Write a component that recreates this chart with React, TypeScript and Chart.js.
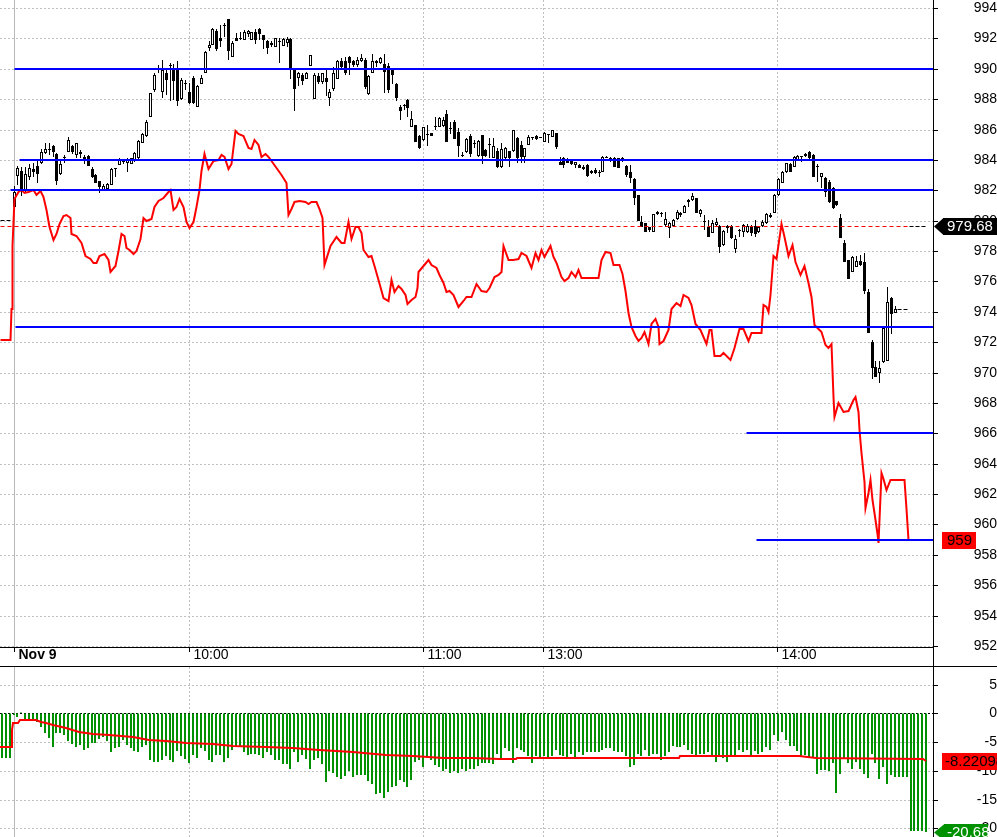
import React, { useEffect, useRef } from "react";
import { Chart, registerables, LinearScale } from "chart.js";

Chart.register(...registerables);

// Linear scales whose pixels are snapped to the device grid, so 1-3px marks stay crisp.
class CrispHalfScale extends (LinearScale as any) {
  static id = "crispHalf";
  static defaults = (LinearScale as any).defaults;
  getPixelForValue(value: number) {
    const p = super.getPixelForValue(value);
    return Math.floor(p) + 0.5;
  }
}
class CrispIntScale extends (LinearScale as any) {
  static id = "crispInt";
  static defaults = (LinearScale as any).defaults;
  getPixelForValue(value: number) {
    const p = super.getPixelForValue(value);
    return Math.floor(p);
  }
}
class CrispRoundScale extends (LinearScale as any) {
  static id = "crispRound";
  static defaults = (LinearScale as any).defaults;
  getPixelForValue(value: number) {
    const p = super.getPixelForValue(value);
    return Math.round(p);
  }
}
class CrispRoundHalfScale extends (LinearScale as any) {
  static id = "crispRoundHalf";
  static defaults = (LinearScale as any).defaults;
  getPixelForValue(value: number) {
    const p = super.getPixelForValue(value);
    return Math.round(p) + 0.5;
  }
}
Chart.register(CrispHalfScale as any, CrispIntScale as any, CrispRoundScale as any, CrispRoundHalfScale as any);

const FONT = "Arial, 'Liberation Sans', sans-serif";

// ---- x axis: minutes since 09:15 on Nov 9 (one candle per minute, lunch break removed)
const xMin = -3.59;
const xMax = 235.64;
const xTickValues = [0, 45, 105, 135.7, 195.7];
const xTickLabels = ["Nov 9", "10:00", "11:00", "13:00", "14:00"];

// ---- price panel
const priceMin = 951.93;
const priceMax = 994.53;
const priceTicks = [952, 954, 956, 958, 960, 962, 964, 966, 968, 970, 972, 974, 976, 978, 980, 982, 984, 986, 988, 990, 992, 994];

const candleOpen = [
  980.9, 982.96, 983.27, 982.0, 982.85, 983.4, 983.6, 983.8, 984.45, 984.7,
  984.9, 984.4, 983.1, 984.1, 984.5, 984.9, 984.3, 984.55, 984.2, 984.25,
  983.4, 983.0, 982.6, 982.05, 982.1, 982.35, 983.4, 983.65, 983.9, 983.78,
  983.75, 983.9, 984.1, 985.1, 985.6, 986.85, 988.6, 989.95, 988.45, 989.75,
  990.2, 990.0, 990.0, 988.0, 989.0, 988.45, 989.4, 987.5, 989.0, 989.7,
  991.4, 991.55, 992.5, 992.0, 992.85, 993.25, 990.8, 992.0, 992.05, 991.9,
  992.3, 991.9, 992.4, 992.65, 992.2, 991.8, 991.7, 991.45, 991.8, 991.5,
  991.7, 991.95, 990.0, 989.4, 989.6, 989.3, 990.2, 988.0, 989.5, 989.1,
  989.4, 988.1, 988.7, 989.3, 990.5, 990.5, 990.8, 990.5, 990.25, 990.5,
  990.6, 988.35, 989.75, 990.4, 990.4, 990.3, 990.2, 990.0, 989.0, 987.5,
  987.55, 987.95, 986.2, 986.3, 985.6, 985.3, 985.65, 985.75, 986.2, 986.2,
  986.25, 987.0, 986.1, 986.5, 985.85, 984.25, 984.55, 985.6, 985.1, 984.28,
  985.65, 984.65, 984.95, 984.1, 984.6, 983.56, 984.1, 984.6, 984.6, 985.47,
  984.98, 984.2, 984.98, 985.47, 985.6, 985.47, 985.16, 985.64, 985.53, 985.75,
  983.89, 984.15, 984.0, 983.93, 983.67, 983.67, 983.56, 983.67, 983.12, 983.34,
  983.23, 983.23, 984.1, 984.1, 984.1, 984.1, 984.0, 983.62, 983.23, 982.75,
  981.7, 979.94, 979.83, 979.61, 979.24, 980.42, 980.46, 979.72, 979.54, 979.65,
  980.09, 980.38, 980.53, 981.21, 981.36, 981.47, 980.42, 980.0, 979.56, 979.2,
  979.71, 979.65, 978.4, 979.65, 979.65, 978.11, 979.34, 979.27, 979.27, 979.56,
  979.65, 979.27, 979.65, 979.82, 980.22, 980.53, 981.69, 982.46, 983.18, 983.73,
  983.55, 983.99, 984.17, 984.26, 984.54, 984.32, 983.51, 982.85, 982.79, 982.57,
  982.13, 981.3, 980.15, 978.51, 977.41, 976.64, 976.97, 977.37, 977.26, 975.28,
  972.03, 970.39, 969.95, 970.72, 970.78, 974.89, 973.95,
];
const candleHigh = [
  982.3, 983.6, 983.55, 983.55, 983.7, 983.8, 983.9, 984.7, 985.1, 985.1,
  985.0, 984.45, 983.95, 984.3, 985.5, 985.0, 985.1, 984.65, 984.3, 984.3,
  983.55, 983.1, 982.6, 982.4, 982.5, 983.45, 983.5, 984.1, 984.0, 984.1,
  984.15, 984.5, 985.3, 985.75, 986.6, 988.4, 989.7, 990.25, 990.6, 989.9,
  990.4, 990.3, 990.5, 989.4, 989.25, 989.05, 989.5, 988.95, 989.6, 991.15,
  991.8, 992.7, 992.65, 992.9, 993.0, 993.3, 991.8, 992.33, 992.4, 992.55,
  992.55, 992.45, 992.6, 992.7, 992.25, 991.9, 991.85, 992.05, 992.0, 992.0,
  992.1, 992.05, 990.0, 989.8, 989.7, 989.8, 990.9, 989.7, 989.7, 989.7,
  990.0, 988.7, 990.1, 990.6, 990.7, 990.8, 990.85, 990.55, 990.75, 991.0,
  990.7, 989.6, 991.0, 990.6, 990.75, 991.0, 990.35, 990.0, 989.05, 987.6,
  987.7, 988.0, 987.2, 986.3, 985.65, 986.2, 986.3, 985.8, 986.85, 986.8,
  986.85, 987.3, 986.5, 986.6, 986.1, 984.55, 985.45, 985.7, 985.3, 985.3,
  985.65, 984.7, 985.47, 985.47, 984.76, 985.1, 984.87, 984.6, 986.0, 985.5,
  985.25, 984.77, 985.64, 985.53, 985.64, 985.5, 985.86, 985.7, 986.0, 985.75,
  984.17, 984.2, 984.15, 984.0, 983.89, 983.7, 983.67, 983.7, 983.34, 983.45,
  983.34, 984.28, 984.28, 984.22, 984.22, 984.15, 984.22, 983.67, 983.67, 982.79,
  981.7, 980.31, 979.87, 979.61, 980.46, 980.64, 980.55, 980.6, 979.9, 980.11,
  980.7, 980.6, 981.04, 981.43, 981.85, 981.52, 980.75, 980.38, 980.04, 980.04,
  980.2, 979.71, 979.38, 979.71, 979.71, 979.05, 979.43, 979.78, 979.78, 979.71,
  980.04, 979.65, 980.04, 980.53, 980.48, 981.73, 982.79, 983.29, 983.82, 983.82,
  984.26, 984.32, 984.26, 984.48, 984.59, 984.37, 983.73, 983.16, 982.85, 982.68,
  982.24, 981.3, 980.44, 978.73, 977.41, 977.67, 977.67, 977.74, 977.85, 975.48,
  972.14, 970.78, 970.78, 973.02, 975.66, 975.0, 974.4,
];
const candleLow = [
  980.9, 982.35, 981.6, 981.9, 982.7, 982.9, 982.45, 983.7, 984.4, 984.3,
  984.2, 982.35, 983.0, 983.8, 984.5, 984.4, 984.1, 984.1, 983.7, 983.6,
  982.8, 982.5, 981.85, 982.0, 982.0, 982.35, 982.9, 983.65, 983.7, 983.2,
  983.7, 983.85, 984.0, 985.1, 985.5, 986.85, 988.5, 989.7, 988.05, 988.3,
  987.9, 987.95, 987.55, 987.95, 988.6, 987.7, 987.7, 987.5, 989.0, 989.7,
  991.2, 991.55, 991.15, 991.45, 992.1, 990.6, 990.8, 991.8, 991.9, 991.9,
  992.1, 991.9, 991.65, 991.9, 991.3, 991.0, 991.45, 991.45, 990.4, 991.5,
  991.45, 989.3, 987.25, 988.9, 988.95, 989.3, 990.2, 988.0, 989.0, 989.0,
  988.2, 987.55, 988.55, 989.3, 990.0, 989.6, 989.6, 990.15, 990.15, 990.45,
  988.7, 988.3, 989.7, 990.15, 990.3, 988.4, 988.4, 989.0, 987.9, 986.6,
  987.3, 986.85, 986.15, 985.15, 984.7, 985.25, 984.9, 985.6, 986.0, 986.15,
  986.2, 985.2, 985.7, 985.35, 984.2, 984.2, 984.45, 984.2, 984.8, 984.2,
  983.7, 984.2, 984.1, 984.1, 983.5, 983.5, 984.0, 983.56, 984.55, 983.78,
  983.78, 983.78, 984.98, 985.3, 985.3, 985.45, 985.16, 985.1, 985.53, 984.72,
  983.67, 983.45, 983.78, 983.67, 983.45, 983.45, 983.34, 982.9, 983.05, 983.05,
  982.9, 983.23, 984.1, 983.89, 983.56, 983.45, 983.89, 982.9, 982.46, 981.04,
  979.98, 979.61, 979.24, 979.28, 979.24, 980.38, 980.27, 979.61, 978.84, 979.61,
  980.05, 980.27, 980.49, 980.93, 981.3, 980.49, 980.27, 979.39, 978.9, 979.16,
  979.65, 977.85, 978.33, 979.2, 978.77, 977.9, 978.9, 978.95, 979.16, 979.0,
  978.95, 979.2, 979.6, 979.78, 980.16, 980.53, 981.62, 982.46, 983.12, 983.18,
  983.55, 983.95, 983.88, 984.21, 984.04, 982.85, 982.57, 982.13, 981.58, 981.14,
  980.77, 980.97, 978.88, 977.3, 976.14, 976.6, 976.97, 977.0, 975.17, 972.58,
  969.55, 969.69, 969.29, 970.65, 970.78, 972.52, 973.9,
];
const candleClose = [
  981.9, 983.45, 982.0, 983.1, 983.45, 983.2, 983.1, 984.55, 984.7, 984.65,
  984.55, 982.6, 983.7, 984.1, 985.3, 984.5, 985.1, 984.4, 984.05, 983.6,
  982.9, 982.5, 982.2, 982.3, 982.4, 983.4, 983.4, 984.0, 983.85, 984.0,
  984.1, 984.45, 985.25, 985.7, 986.5, 988.4, 989.6, 990.0, 989.9, 989.25,
  990.25, 989.2, 987.9, 989.25, 989.0, 987.75, 987.75, 988.9, 989.4, 991.1,
  991.55, 992.65, 991.3, 991.8, 992.9, 991.15, 991.7, 991.8, 991.95, 992.45,
  992.5, 992.4, 991.9, 992.3, 991.9, 991.4, 991.55, 992.0, 991.75, 991.95,
  991.95, 990.0, 988.7, 989.75, 989.2, 989.7, 990.9, 989.6, 989.1, 989.7,
  989.1, 988.5, 989.7, 990.5, 990.1, 989.7, 990.4, 990.25, 990.6, 990.7,
  988.8, 989.5, 990.5, 990.5, 990.7, 989.8, 988.6, 989.6, 988.1, 987.2,
  987.55, 987.4, 986.7, 985.2, 984.8, 986.15, 985.7, 985.6, 986.2, 986.75,
  986.6, 985.2, 986.05, 985.4, 984.9, 984.25, 985.4, 984.4, 985.05, 985.25,
  984.28, 984.28, 984.98, 984.9, 983.56, 984.72, 984.77, 984.1, 986.0, 984.1,
  984.2, 984.77, 985.53, 985.47, 985.38, 985.47, 985.75, 985.64, 985.97, 984.87,
  983.67, 983.67, 983.82, 983.76, 983.84, 983.5, 983.4, 982.94, 983.27, 983.12,
  983.12, 984.22, 984.22, 984.0, 983.56, 983.5, 984.15, 983.01, 982.83, 981.52,
  979.98, 979.61, 979.28, 979.39, 980.42, 980.6, 980.46, 980.11, 979.83, 980.05,
  980.6, 980.53, 980.97, 981.36, 981.63, 980.53, 980.71, 979.94, 978.9, 979.82,
  979.93, 978.24, 979.34, 979.5, 978.84, 978.77, 979.34, 979.71, 979.65, 979.16,
  979.12, 979.56, 979.93, 980.44, 980.37, 981.69, 982.72, 983.22, 983.77, 983.22,
  984.21, 984.26, 984.17, 984.39, 984.1, 982.9, 983.51, 983.12, 981.91, 981.25,
  980.81, 981.03, 978.88, 977.3, 976.14, 977.63, 977.34, 977.08, 975.39, 972.58,
  970.28, 969.69, 970.33, 972.91, 974.67, 973.86, 974.2,
];

// red comparison line (read on the price axis)
const redLineX = [
  -3.59, -0.77, -0.72, -0.46, -0.31, 0.18, 1.1, 1.97, 2.82, 3.67,
  4.95, 5.82, 6.67, 7.51, 8.38, 9.23, 10.08, 10.95, 11.79, 12.64,
  13.51, 14.36, 14.79, 16.08, 17.36, 18.21, 19.49, 20.33, 21.21, 22.05,
  23.33, 24.18, 24.87, 25.9, 26.74, 27.62, 28.21, 28.9, 29.74, 30.59,
  31.46, 32.31, 33.15, 34.03, 35.31, 36.15, 37, 38.28, 39.56, 40.18,
  40.85, 41.72, 42.56, 43.41, 44.28, 44.95, 45.97, 46.85, 47.51, 48.13,
  48.97, 49.82, 51.1, 52.38, 53.26, 54.1, 54.95, 55.82, 56.67, 57.51,
  58.79, 60.08, 60.95, 61.79, 62.64, 63.51, 64.36, 65.21, 66.08, 67.36,
  68.64, 69.92, 70.44, 71.21, 72.05, 73.33, 74.62, 75.46, 76.33, 77.62,
  78.46, 79.15, 79.74, 81.03, 82.74, 84.03, 84.87, 85.72, 86.59, 87.44,
  88.28, 89.15, 89.56, 90.85, 91.72, 92.56, 93.41, 94.69, 95.97, 96.85,
  97.69, 98.54, 99.41, 100.26, 100.85, 101.97, 102.82, 103.41, 103.67, 104.95,
  106.23, 107.1, 108.38, 109.23, 110.08, 110.77, 111.79, 112.64, 113.92, 115.2,
  116.08, 117.36, 118.64, 119.92, 121.21, 122.05, 123.33, 124.18, 125.05, 125.64,
  126.74, 128.03, 129.31, 130.18, 131.46, 132.74, 133.59, 134.44, 135.31, 136.15,
  137.44, 138.28, 139.15, 140.44, 141.28, 142.13, 143, 143.85, 144.69, 145.56,
  146.85, 148.54, 149.82, 150.69, 151.54, 152.82, 153.67, 155.38, 156.08, 156.67,
  157.51, 158.38, 159.23, 160.08, 160.95, 161.79, 162.64, 163.51, 164.36, 165.21,
  165.64, 166.49, 167.77, 168.64, 169.92, 170.77, 171.62, 172.9, 173.77, 174.62,
  175.9, 177.62, 178.46, 178.9, 179.74, 181.03, 181.87, 183.59, 184.87, 186.15,
  187, 188.28, 189.15, 190.44, 191.72, 192.13, 192.82, 193.41, 193.85, 194.69,
  195.56, 196.67, 197.69, 198.54, 199.56, 200.44, 201.72, 202.64, 203.67, 204.54,
  205.38, 206.23, 207.1, 207.95, 208.79, 209.67, 210.08, 210.51, 211.36, 212.64,
  213.92, 215.21, 215.82, 216.49, 216.92, 217.36, 217.95, 218.46, 219.05, 219.49,
  220.08, 220.77, 221.36, 221.62, 222.05, 222.49, 222.9, 223.77, 224.62, 225.46,
  228.46, 228.9, 229.31,
];
const redLineY = [
  972.14, 972.14, 974.2, 974.2, 978.3, 981.4, 981.9, 982.0, 981.8, 981.9,
  982.0, 981.7, 981.95, 981.55, 980.7, 979.6, 978.7, 979.1, 979.8, 980.3,
  980.4, 980.2, 979.1, 979.0, 978.5, 977.7, 977.5, 977.2, 977.2, 977.7,
  977.8, 977.4, 976.6, 977.0, 978.0, 979.1, 979.0, 978.2, 978.1, 977.8,
  978.0, 978.8, 980.2, 980.0, 980.1, 980.9, 981.3, 981.5, 981.9, 982.0,
  980.7, 980.9, 981.4, 980.9, 979.9, 979.5, 979.9, 980.9, 982.0, 983.3,
  984.4, 983.4, 983.9, 984.0, 984.3, 984.2, 983.4, 983.7, 985.9, 985.7,
  985.6, 984.8, 984.7, 985.3, 985.0, 984.2, 984.4, 984.2, 983.9, 983.5,
  983.0, 982.5, 980.4, 980.8, 981.2, 981.3, 981.2, 981.1, 981.2, 981.2,
  980.8, 980.2, 977.1, 978.3, 978.9, 978.5, 978.5, 979.9, 978.8, 979.6,
  979.6, 979.2, 978.1, 977.6, 977.7, 977.0, 976.1, 974.9, 974.7, 976.1,
  975.3, 975.7, 975.5, 975.1, 974.5, 974.8, 975.0, 975.6, 976.6, 977.0,
  977.4, 977.1, 976.9, 976.4, 975.9, 975.3, 975.4, 975.1, 974.3, 974.7,
  975.0, 974.95, 975.8, 975.4, 975.3, 975.55, 976.3, 976.4, 976.6, 978.3,
  977.4, 977.4, 977.5, 977.85, 977.7, 976.9, 977.85, 977.4, 978.1, 977.6,
  978.3, 977.6, 977.2, 976.3, 976.0, 976.2, 976.6, 976.3, 976.75, 976.2,
  976.2, 976.2, 976.2, 977.4, 977.95, 977.85, 977.1, 977.1, 976.5, 975.4,
  973.9, 973.0, 972.4, 972.1, 972.3, 972.7, 971.9, 973.2, 973.5, 973.0,
  971.9, 972.1, 972.8, 974.2, 974.6, 974.4, 975.1, 974.9, 974.45, 973.2,
  972.8, 971.9, 972.8, 972.8, 971.1, 971.1, 971.3, 970.8, 971.6, 972.9,
  972.9, 972.1, 972.6, 972.6, 972.6, 974.45, 974.3, 974.0, 975.1, 977.7,
  977.5, 979.8, 978.9, 977.7, 978.4, 977.3, 976.4, 977.0, 975.9, 975.0,
  973.1, 972.9, 972.7, 971.8, 971.6, 971.9, 968.4, 967.1, 968.0, 967.4,
  967.5, 968.2, 968.4, 967.4, 966.2, 964.7, 962.8, 961.1, 962.05, 962.9,
  961.6, 960.3, 959.4, 958.8, 960.3, 963.4, 963.0, 962.3, 962.9, 962.9,
  962.9, 961.0, 959.0,
];

// blue horizontal levels and where each one starts
const levelPrices = [990, 984, 982, 973, 966, 959];
const levelStarts = [0, 1.3, -0.8, 0.3, 187.7, 190.5];

// dashed reference levels
const refPrice = 979.68;
const refRedEnd = 229.3;
const refBlackEnd = 234.1;
const prevDayPrice = 980.07;
const prevDayEnd = -0.5;
const lastClosePrice = 974.2;
const lastCloseFrom = 226.5;
const lastCloseTo = 229.3;
const redLast = 959;

// ---- oscillator panel
const oscMin = -21.51;
const oscMax = 8.05;
const oscTicks = [5, 0, -5, -10, -15, -20];
const histFirstX = -3;
const histValues = [
  -7.7, -7.7, -7.7,
  -0.3, -0.6, 0.2, -1.2, -1.2, -1.2, -1.5, -2.3, -3.4, -4.3,
  -5.8, -3.5, -3.4, -3.8, -4.8, -5.3, -5.8, -5.5, -6.3, -6.0,
  -5.1, -5.1, -4.5, -4.2, -4.9, -6.7, -6.1, -5.8, -4.6, -5.5,
  -6.1, -6.5, -6.8, -5.8, -5.5, -8.2, -8.4, -8.4, -8.1, -7.5,
  -8.1, -8.5, -6.5, -7.5, -8.0, -8.7, -7.2, -7.7, -6.1, -6.5,
  -8.1, -8.5, -7.2, -7.2, -8.4, -7.7, -6.4, -5.8, -5.9, -6.7,
  -7.2, -7.1, -7.1, -7.2, -7.7, -6.7, -7.2, -8.1, -8.1, -8.8,
  -8.8, -9.6, -6.7, -8.4, -7.2, -8.0, -9.6, -8.2, -7.8, -8.9,
  -11.9, -10.0, -10.4, -11.1, -11.5, -10.9, -10.1, -11.1, -10.7, -10.7,
  -10.7, -11.7, -12.3, -14.1, -13.9, -14.7, -13.6, -12.9, -12.6, -11.6,
  -11.9, -12.8, -11.6, -8.4, -8.1, -9.4, -7.7, -8.1, -9.0, -9.4,
  -10.0, -9.6, -10.3, -10.1, -10.4, -9.6, -10.0, -9.7, -9.6, -9.2,
  -8.7, -8.7, -8.7, -8.8, -7.0,
  -8.0, -6.1, -6.5, -8.6, -6.1, -6.4, -6.7, -7.5, -8.6, -7.4,
  -8.0, -7.5, -7.8, -7.5, -6.3, -7.2, -7.4, -7.7, -7.1, -7.8,
  -6.7, -7.2, -6.8, -6.8, -6.7, -6.8, -6.4, -6.1, -6.1, -6.5,
  -6.8, -6.8, -7.4, -9.3, -9.0, -7.0, -7.5, -6.3, -7.5, -7.0,
  -7.0, -8.1, -7.5, -6.8, -5.7, -5.8, -5.9, -5.5, -6.4, -7.0,
  -7.5, -7.0, -7.0, -6.8, -7.2, -8.5, -7.5, -7.8, -8.4, -7.2,
  -7.2, -6.4, -6.7, -6.4, -7.2, -6.5, -7.1, -6.7, -5.8, -6.4,
  -3.8, -4.9, -3.2, -4.6, -5.7, -5.7, -6.5, -7.5, -7.2, -7.8,
  -7.8, -10.6, -9.9, -9.9, -10.1, -8.7, -13.8, -10.6, -8.0, -8.6,
  -9.6, -8.4, -9.6, -10.6, -11.3, -7.0, -8.7, -11.4, -9.3, -12.3,
  -10.7, -11.0, -11.0, -11.0, -11.0, -20.5, -20.5, -20.5, -20.5, -20.68,
];
const avgLineX = [
  -3.59, -0.51, -0.34, -0.17, 1.11, 1.54, 5.81, 7.09, 8.38, 10.09,
  13.5, 16.92, 20.34, 24.6, 30.6, 34.87, 39.15, 44.27, 51.11, 56.24,
  64.79, 71.62, 78.46, 87.0, 95.56, 102.4, 110.09, 117.78, 124.6, 128.9,
  129.0, 170.7, 170.8, 201.5, 205.8, 233.1, 234.0,
];
const avgLineY = [
  -5.8, -5.8, -2.9, -1.74, -1.74, -1.16, -1.16, -1.45, -1.74, -2.1,
  -2.6, -3.19, -3.6, -3.8, -4.2, -4.6, -4.9, -5.2, -5.4, -5.6,
  -5.8, -6.1, -6.4, -6.8, -7.25, -7.5, -7.7, -7.8, -7.9, -7.9,
  -7.75, -7.75, -7.5, -7.5, -7.7, -7.95, -8.22,
];
const avgLast = -8.22098;
const histLast = -20.68;

// ---------------------------------------------------------------
const GRID = "#c0c0c0";

function tagPlugin(id: string, tags: any[]) {
  return {
    id,
    afterDraw(chart: any) {
      const { ctx, chartArea } = chart;
      const ys = chart.scales.y;
      const R = Math.floor(chartArea.right);
      ctx.save();
      ctx.font = `15px ${FONT}`;
      tags.forEach((t) => {
        const py = Math.round(ys.getPixelForValue(t.value));
        const h = 17;
        const top = py - 8;
        const x0 = R + t.left;
        const x1 = R + t.right;
        ctx.fillStyle = t.bg;
        ctx.fillRect(x0, top, x1 - x0, h);
        if (t.arrow) {
          ctx.beginPath();
          ctx.moveTo(R + 1, py + 0.5);
          ctx.lineTo(x0 + 0.5, top);
          ctx.lineTo(x0 + 0.5, top + h);
          ctx.closePath();
          ctx.fill();
        }
        ctx.fillStyle = t.fg;
        ctx.textAlign = "left";
        ctx.textBaseline = "middle";
        ctx.fillText(t.text, R + t.textX, py + 1);
      });
      ctx.restore();
    },
  };
}

const frameBandPlugin = {
  id: "frameBand",
  afterDraw(chart: any) {
    const { ctx, chartArea } = chart;
    ctx.save();
    ctx.strokeStyle = "#000";
    ctx.lineWidth = 1;
    ctx.beginPath();
    ctx.moveTo(Math.round(chartArea.right) + 0.5, chartArea.bottom);
    ctx.lineTo(Math.round(chartArea.right) + 0.5, chart.height);
    ctx.stroke();
    ctx.restore();
  },
};

function xScale(showLabels: boolean, type: string) {
  return {
    type,
    min: xMin,
    max: xMax,
    offset: false,
    display: true,
    afterBuildTicks: (s: any) => {
      s.ticks = xTickValues.map((v) => ({ value: v }));
    },
    afterFit: (s: any) => {
      s.height = showLabels ? 19 : 0;
      s.paddingLeft = 0;
      s.paddingRight = 0;
    },
    ticks: {
      display: showLabels,
      autoSkip: false,
      maxRotation: 0,
      minRotation: 0,
      align: "start",
      labelOffset: 4,
      padding: -5,
      color: "#000",
      font: (c: any) => ({ family: FONT, size: 14, weight: c.index === 0 ? "bold" : "normal" }),
      callback: (_v: any, i: number) => xTickLabels[i],
    },
    grid: {
      offset: false,
      color: (c: any) => (c.index === 0 ? "#b8b8b8" : GRID),
      lineWidth: 1,
      drawTicks: showLabels,
      tickLength: 5,
      tickColor: "#000",
      tickBorderDash: [],
    },
    border: {
      display: showLabels,
      color: "#000",
      width: 1,
      dash: (c: any) => (c.index === 0 ? [] : [2, 2]),
    },
  };
}

function topConfig(): any {
  const n = Math.min(candleOpen.length, candleHigh.length, candleLow.length, candleClose.length);
  const idx = Array.from({ length: n }, (_, i) => i);
  const up = idx.map((i) => candleClose[i] >= candleOpen[i]);
  const bodies = idx.map((i) => ({
    x: i,
    y: [Math.min(candleOpen[i], candleClose[i]), Math.max(candleOpen[i], candleClose[i])],
  }));
  const wicks = idx.map((i) => ({
    x: i,
    y: [
      Math.min(candleLow[i], candleOpen[i], candleClose[i]),
      Math.max(candleHigh[i], candleOpen[i], candleClose[i]),
    ],
  }));
  const redN = Math.min(redLineX.length, redLineY.length);
  const redData = Array.from({ length: redN }, (_, k) => ({ x: redLineX[k], y: redLineY[k] }));

  const lineBase = { type: "line", pointRadius: 0, tension: 0, fill: false };
  const thin = { ...lineBase, yAxisID: "yThin", borderWidth: 1, order: 3 };
  const datasets: any[] = [
    ...levelPrices.map((p, k) => ({
      ...lineBase,
      data: [
        { x: levelStarts[k], y: p },
        { x: xMax, y: p },
      ],
      borderColor: "#0000ff",
      borderWidth: 2,
      order: 1,
    })),
    {
      ...lineBase,
      data: redData,
      borderColor: "#ff0000",
      borderWidth: 2,
      order: 2,
    },
    {
      ...thin,
      data: [
        { x: xMin, y: refPrice },
        { x: refRedEnd, y: refPrice },
      ],
      borderColor: "#ff0000",
      borderDash: [4, 3],
    },
    {
      ...thin,
      data: [
        { x: refRedEnd + 0.3, y: refPrice },
        { x: refBlackEnd, y: refPrice },
      ],
      borderColor: "#000",
      borderDash: [4, 2],
    },
    {
      ...thin,
      data: [
        { x: xMin, y: prevDayPrice },
        { x: prevDayEnd, y: prevDayPrice },
      ],
      borderColor: "#000",
      borderDash: [4, 2],
    },
    {
      ...thin,
      data: [
        { x: lastCloseFrom, y: lastClosePrice },
        { x: lastCloseTo, y: lastClosePrice },
      ],
      borderColor: "#000",
      borderDash: [4, 2],
    },
    {
      type: "bar",
      data: bodies,
      backgroundColor: idx.map((i) => (up[i] ? "#ffffff" : "#000000")),
      borderColor: "#000000",
      borderWidth: 1,
      borderSkipped: false,
      barThickness: 3,
      minBarLength: 1,
      grouped: false,
      inflateAmount: 0,
      order: 4,
    },
    {
      type: "bar",
      data: wicks,
      backgroundColor: "#000000",
      borderWidth: 0,
      barThickness: 1,
      minBarLength: 1,
      grouped: false,
      inflateAmount: 0,
      order: 5,
    },
  ];

  return {
    type: "bar",
    data: { datasets },
    options: {
      animation: false,
      responsive: false,
      events: [],
      layout: { padding: 0, autoPadding: false },
      plugins: { legend: { display: false }, tooltip: { enabled: false } },
      scales: {
        x: xScale(true, "crispHalf"),
        y: {
          type: "crispRound",
          position: "right",
          min: priceMin,
          max: priceMax,
          afterBuildTicks: (s: any) => {
            s.ticks = priceTicks.map((v) => ({ value: v }));
          },
          afterFit: (s: any) => {
            s.width = 64;
            s.paddingTop = 0;
            s.paddingBottom = 0;
          },
          ticks: {
            autoSkip: false,
            crossAlign: "far",
            padding: 35.6,
            color: "#000",
            font: { family: FONT, size: 14 },
            callback: (v: any) => String(v),
          },
          grid: { color: GRID, lineWidth: 1, tickColor: "#000", tickLength: 5, tickBorderDash: [] },
          border: { display: true, color: "#000", width: 1, dash: [2, 2] },
        },
        // same price range, half-pixel snapped, used for the 1px dashed reference lines
        yThin: {
          type: "crispRoundHalf",
          position: "right",
          display: false,
          min: priceMin,
          max: priceMax,
          afterFit: (s: any) => {
            s.width = 0;
            s.paddingTop = 0;
            s.paddingBottom = 0;
          },
        },
      },
    },
    plugins: [
      frameBandPlugin,
      tagPlugin("topTags", [
        { value: refPrice, text: refPrice.toFixed(2), bg: "#000000", fg: "#ffffff", arrow: true, left: 10, right: 64, textX: 14 },
        { value: redLast, text: String(redLast), bg: "#ff0000", fg: "#000000", arrow: false, left: 9, right: 43, textX: 14 },
      ]),
    ],
  };
}

function bottomConfig(): any {
  const bars = histValues.map((v, k) => ({ x: histFirstX + k, y: v }));
  const n = Math.min(avgLineX.length, avgLineY.length);
  const avg = Array.from({ length: n }, (_, k) => ({ x: avgLineX[k], y: avgLineY[k] }));
  return {
    type: "bar",
    data: {
      datasets: [
        {
          type: "line",
          data: avg,
          borderColor: "#ff0000",
          borderWidth: 2,
          pointRadius: 0,
          tension: 0,
          fill: false,
          order: 0,
        },
        {
          type: "bar",
          data: bars,
          backgroundColor: "#009100",
          borderWidth: 0,
          barThickness: 2,
          grouped: false,
          inflateAmount: 0,
          order: 1,
        },
      ],
    },
    options: {
      animation: false,
      responsive: false,
      events: [],
      layout: { padding: 0, autoPadding: false },
      plugins: { legend: { display: false }, tooltip: { enabled: false } },
      scales: {
        x: xScale(false, "crispInt"),
        y: {
          type: "crispRound",
          position: "right",
          min: oscMin,
          max: oscMax,
          afterBuildTicks: (s: any) => {
            s.ticks = oscTicks.map((v) => ({ value: v }));
          },
          afterFit: (s: any) => {
            s.width = 64;
            s.paddingTop = 0;
            s.paddingBottom = 0;
          },
          ticks: {
            autoSkip: false,
            crossAlign: "far",
            padding: 38.8,
            color: "#000",
            font: { family: FONT, size: 14 },
            callback: (v: any) => String(v),
          },
          grid: {
            color: (c: any) => (c.tick && c.tick.value === 0 ? "#000" : GRID),
            lineWidth: 1,
            tickColor: "#000",
            tickLength: 5,
            tickBorderDash: [],
          },
          border: { display: true, color: "#000", width: 1, dash: [2, 2] },
        },
      },
    },
    plugins: [
      tagPlugin("botTags", [
        { value: avgLast, text: String(avgLast), bg: "#ff0000", fg: "#000000", arrow: false, left: 9, right: 70, textX: 12 },
        { value: histLast, text: String(histLast), bg: "#009100", fg: "#ffffff", arrow: true, left: 11, right: 55, textX: 14 },
      ]),
    ],
  };
}

export default function App() {
  const topRef = useRef<HTMLCanvasElement>(null);
  const botRef = useRef<HTMLCanvasElement>(null);

  useEffect(() => {
    const top = new Chart(topRef.current as HTMLCanvasElement, topConfig());
    const bot = new Chart(botRef.current as HTMLCanvasElement, bottomConfig());
    return () => {
      top.destroy();
      bot.destroy();
    };
  }, []);

  return (
    <div
      style={{
        position: "absolute",
        left: 0,
        top: 0,
        width: 997,
        height: 837,
        background: "#ffffff",
        overflow: "hidden",
      }}
    >
      <canvas ref={topRef} width={997} height={666} style={{ position: "absolute", left: 0, top: 0 }} />
      <div style={{ position: "absolute", left: 0, top: 666, width: 997, height: 1, background: "#000" }} />
      <canvas ref={botRef} width={997} height={170} style={{ position: "absolute", left: 0, top: 667 }} />
    </div>
  );
}
